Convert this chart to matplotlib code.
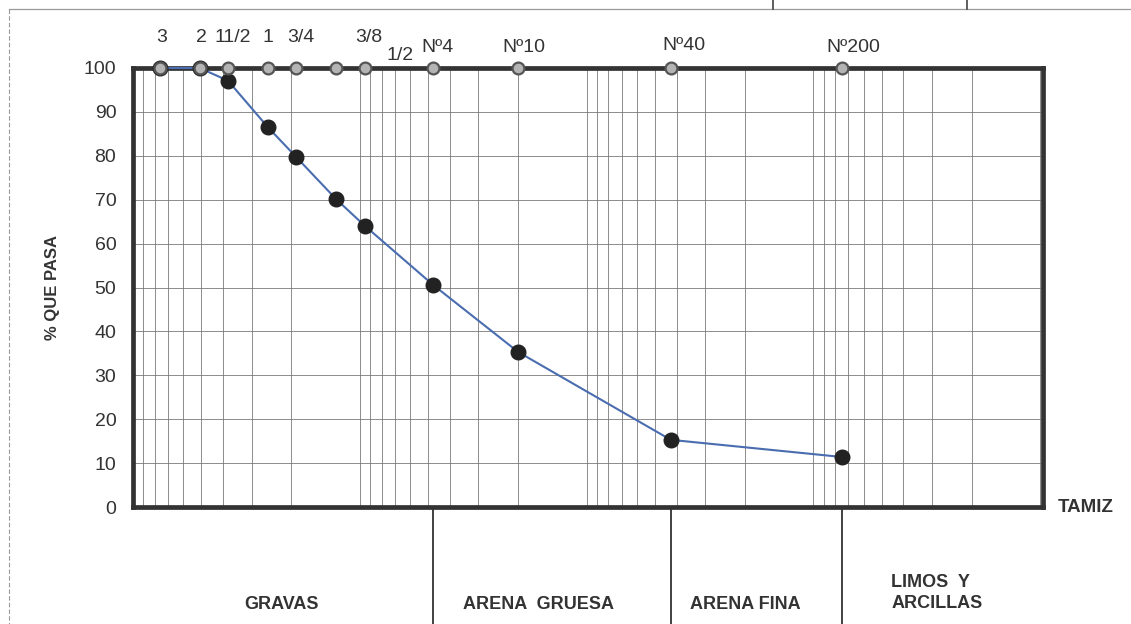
import matplotlib
matplotlib.use("Agg")
from matplotlib import pyplot as plt
from matplotlib.lines import Line2D
import matplotlib.transforms as mtransforms
import numpy as np

plt.rcParams['font.family'] = ['Liberation Sans', 'DejaVu Sans']

# sieve data (opening in mm) and % passing
sieve_labels = ['3', '2', '11/2', '1', '3/4', '1/2', '3/8', 'Nº4', 'Nº10', 'Nº40', 'Nº200']
sieve_mm = [76.2, 50.8, 38.1, 25.4, 19.05, 12.7, 9.525, 4.75, 2.0, 0.425, 0.075]
pct_pasa = [100, 100, 97.1, 86.5, 79.7, 70.1, 64.1, 50.6, 35.3, 15.3, 11.4]

zone_labels = ['GRAVAS', 'ARENA  GRUESA', 'ARENA FINA', 'LIMOS  Y\nARCILLAS']
zone_limits_mm = [4.75, 0.425, 0.075]

y_ticks = list(range(0, 101, 10))

# label offsets in pixels (dx, dy) from the sieve marker at the top edge
label_offsets = [(2, 30), (2, 30), (5, 30), (0, 30), (5, 30), (64, 12),
                 (4, 30), (4, 20), (6, 20), (13, 22), (12, 20)]

TXT = '#333333'

fig = plt.figure(figsize=(11.31, 6.24), dpi=100)
ax = fig.add_axes([133 / 1131, 117 / 624, 910 / 1131, 439 / 624])

ax.set_xscale('log')
ax.set_xlim(100, 0.0097)
ax.set_ylim(0, 100)

# grid
ax.set_yticks(y_ticks)
ax.xaxis.set_minor_locator(matplotlib.ticker.LogLocator(base=10, subs=np.arange(1, 10)))
ax.xaxis.set_major_locator(matplotlib.ticker.LogLocator(base=10))
ax.grid(True, which='both', axis='x', color='#7a7a7a', lw=0.6)
ax.grid(True, which='major', axis='y', color='#7a7a7a', lw=0.6)
ax.tick_params(axis='x', which='both', length=0, labelbottom=False)
ax.tick_params(axis='y', length=0, pad=12, labelsize=14, labelcolor=TXT)

for sp in ax.spines.values():
    sp.set_linewidth(3.4)
    sp.set_color('#333333')

# curve
ax.plot(sieve_mm, pct_pasa, color='#4a6db0', lw=1.5, zorder=3, clip_on=False)
ax.plot(sieve_mm, pct_pasa, 'o', color='#222222', ms=10.5, zorder=4, clip_on=False)

# sieve markers along the top
ax.plot(sieve_mm, [100] * len(sieve_mm), 'o', ms=8.5, mfc='#b4b4b4', mec='#555555',
        mew=1.6, zorder=6, clip_on=False)

for lab, x, (dx, dy) in zip(sieve_labels, sieve_mm, label_offsets):
    ax.annotate(lab, xy=(x, 100), xytext=(dx, dy), textcoords='offset pixels',
                ha='center', va='center', fontsize=14, color=TXT)

# zone separators below the chart
trans = mtransforms.blended_transform_factory(ax.transData, ax.transAxes)
for x in zone_limits_mm:
    ax.plot([x, x], [0, -0.3], transform=trans, color='#333333', lw=1.3, clip_on=False)

zone_x = [0.1637, 0.446, 0.6725, 0.8835]
zone_y = [-0.221, -0.221, -0.221, -0.196]
for lab, zx, zy in zip(zone_labels, zone_x, zone_y):
    ax.text(zx, zy, lab, transform=ax.transAxes, ha='center', va='center',
            fontsize=13, fontweight='bold', color=TXT, linespacing=1.3,
            multialignment='left')

ax.text(1086 / 1131, 1 - 507 / 624, 'TAMIZ', transform=fig.transFigure, ha='center',
        va='center', fontsize=13.5, fontweight='bold', color=TXT)
fig.text(52 / 1131, 1 - 288 / 624, '% QUE PASA', rotation=90, ha='center', va='center',
         fontsize=12, fontweight='bold', color=TXT)

# scanned page frame bits
def px_line(x0, y0, x1, y1, **kw):
    fig.add_artist(Line2D([x0 / 1131, x1 / 1131], [1 - y0 / 624, 1 - y1 / 624],
                          transform=fig.transFigure, **kw))

px_line(9, 9, 1131, 9, color='#9a9a9a', lw=0.9)
px_line(9, 9, 9, 624, color='#9a9a9a', lw=0.8, ls=(0, (4, 2)))
px_line(773, 0, 773, 9, color='#444444', lw=1.2)
px_line(967, 0, 967, 9, color='#444444', lw=1.2)

fig.savefig('out.png', dpi=100)
